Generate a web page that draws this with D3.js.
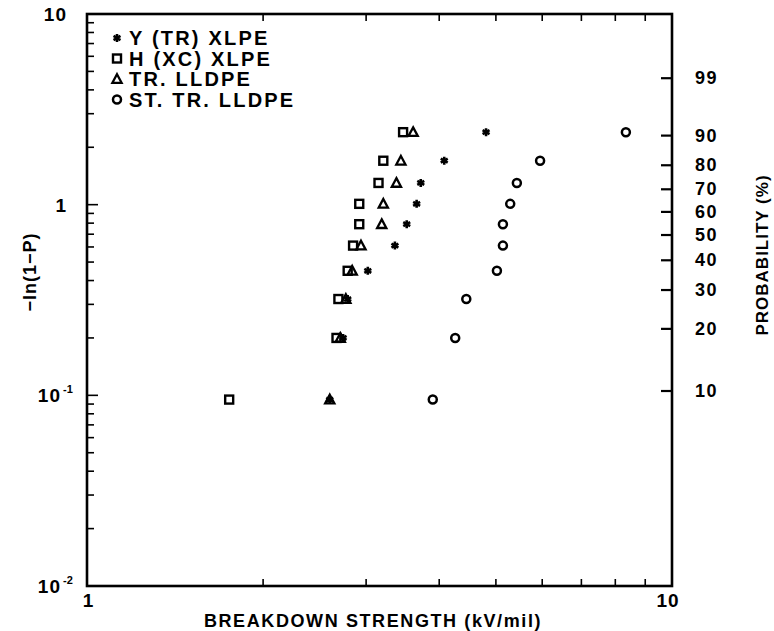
<!DOCTYPE html>
<html><head><meta charset="utf-8">
<script src="https://cdn.jsdelivr.net/npm/d3@7"></script>
<style>body{margin:0;background:#fff}</style>
</head><body><svg id="c" width="774" height="631"></svg>
<script>
// -ln(1-P) plotting positions
const rankValues = [0.095, 0.20, 0.32, 0.45, 0.61, 0.79, 1.01, 1.30, 1.70, 2.40];
// breakdown strength (kV/mil)
const yTrXlpe   = [2.60, 2.74, 2.79, 3.02, 3.36, 3.52, 3.66, 3.72, 4.08, 4.81];
const hXcXlpe   = [1.75, 2.67, 2.69, 2.79, 2.85, 2.92, 2.92, 3.15, 3.21, 3.47];
const trLldpe   = [2.60, 2.71, 2.77, 2.84, 2.94, 3.19, 3.21, 3.38, 3.44, 3.61];
const stTrLldpe = [3.90, 4.26, 4.45, 5.02, 5.14, 5.14, 5.29, 5.43, 5.95, 8.34];
const seriesNames = ["Y (TR) XLPE", "H (XC) XLPE", "TR. LLDPE", "ST. TR. LLDPE"];
const seriesSymbols = ["star", "square", "triangle", "circle"];
const probTicks = [10, 20, 30, 40, 50, 60, 70, 80, 90, 99];
const xTickLabels = ["1", "10"];
const yTickLabels = [{v: 10, base: "10", sup: ""}, {v: 1, base: "1", sup: ""}, {v: 0.1, base: "10", sup: "-1"}, {v: 0.01, base: "10", sup: "-2"}];

const seriesData = [yTrXlpe, hXcXlpe, trLldpe, stTrLldpe];

const L = 87, R = 672, T = 14, B = 586;
const svg = d3.select("#c");
const x = d3.scaleLog().domain([1, 10]).range([L, R]);
const y = d3.scaleLog().domain([0.01, 10]).range([B, T]);

const font = "'Liberation Sans', Arial, sans-serif";

// minor ticks
const minorX = d3.range(2, 10);
const g = svg.append("g").attr("stroke", "#000").attr("stroke-width", 1.6);
minorX.forEach(v => {
  g.append("line").attr("x1", x(v)).attr("x2", x(v)).attr("y1", B).attr("y2", B - 7);
  g.append("line").attr("x1", x(v)).attr("x2", x(v)).attr("y1", T).attr("y2", T + 7);
});
[0.01, 0.1, 1].forEach(d => {
  d3.range(2, 10).forEach(m => {
    const v = d * m;
    g.append("line").attr("x1", L).attr("x2", L + 7).attr("y1", y(v)).attr("y2", y(v));
  });
});
[0.1, 1].forEach(v => {
  g.append("line").attr("x1", L).attr("x2", L + 11).attr("y1", y(v)).attr("y2", y(v));
});
// right probability ticks
probTicks.forEach(p => {
  const v = -Math.log(1 - p / 100);
  g.append("line").attr("x1", R).attr("x2", R - 11).attr("y1", y(v)).attr("y2", y(v)).attr("stroke-width", 2.2);
});

// frame
svg.append("rect").attr("x", L).attr("y", T).attr("width", R - L).attr("height", B - T)
  .attr("fill", "none").attr("stroke", "#000").attr("stroke-width", 2.6);

// left labels
yTickLabels.forEach(t => {
  const tx = svg.append("text").attr("font-family", font).attr("font-weight", "bold")
    .attr("font-size", 19).attr("letter-spacing", 1)
    .attr("text-anchor", "end").attr("x", t.sup ? 61 : 67).attr("y", y(t.v) + 7);
  tx.text(t.base);
  if (t.sup) {
    svg.append("text").attr("font-family", font).attr("font-weight", "bold")
      .attr("font-size", 11).attr("x", 63).attr("y", y(t.v) - 2).text(t.sup);
  }
});
// bottom labels
svg.append("text").attr("font-family", font).attr("font-weight", "bold").attr("font-size", 19)
  .attr("text-anchor", "middle").attr("x", x(1) + 1).attr("y", 607).text(xTickLabels[0]);
svg.append("text").attr("font-family", font).attr("font-weight", "bold").attr("font-size", 19)
  .attr("letter-spacing", 1).attr("text-anchor", "middle").attr("x", x(10) - 4).attr("y", 607).text(xTickLabels[1]);
// right labels
probTicks.forEach(p => {
  const v = -Math.log(1 - p / 100);
  svg.append("text").attr("font-family", font).attr("font-weight", "bold").attr("font-size", 18)
    .attr("letter-spacing", 1.5).attr("x", 695).attr("y", y(v) + 6).text(p);
});

// titles
svg.append("text").attr("font-family", font).attr("font-weight", "bold").attr("font-size", 18).attr("letter-spacing", 1.6)
  .attr("text-anchor", "middle").attr("x", 373).attr("y", 627).text("BREAKDOWN STRENGTH (kV/mil)");
svg.append("text").attr("font-family", font).attr("font-weight", "bold").attr("font-size", 18).attr("letter-spacing", 1)
  .attr("text-anchor", "middle").attr("transform", "translate(36,272) rotate(-90)").text("−ln(1−P)");
svg.append("text").attr("font-family", font).attr("font-weight", "bold").attr("font-size", 17).attr("letter-spacing", 1)
  .attr("text-anchor", "middle").attr("transform", "translate(768,255) rotate(-90)").text("PROBABILITY (%)");

// markers
function drawMarker(sel, type) {
  if (type === "star") {
    sel.append("path").attr("d", d3.symbol(d3.symbolAsterisk, 45)()).attr("fill", "none")
      .attr("stroke", "#000").attr("stroke-width", 2.6);
  } else if (type === "square") {
    sel.append("rect").attr("x", -4).attr("y", -4).attr("width", 8).attr("height", 8)
      .attr("fill", "none").attr("stroke", "#000").attr("stroke-width", 2.4);
  } else if (type === "triangle") {
    sel.append("path").attr("d", "M0,-4.8L4.6,3.8L-4.6,3.8Z")
      .attr("fill", "none").attr("stroke", "#000").attr("stroke-width", 2.3);
  } else {
    sel.append("circle").attr("r", 4).attr("fill", "none").attr("stroke", "#000").attr("stroke-width", 2.5);
  }
}
seriesData.forEach((vals, si) => {
  vals.forEach((v, i) => {
    const m = svg.append("g").attr("transform", `translate(${x(v)},${y(rankValues[i])})`);
    drawMarker(m, seriesSymbols[si]);
  });
});

// legend
seriesNames.forEach((n, i) => {
  const yy = 38 + i * 20.5;
  const m = svg.append("g").attr("transform", `translate(117,${yy})`);
  drawMarker(m, seriesSymbols[i]);
  svg.append("text").attr("font-family", font).attr("font-weight", "bold").attr("font-size", 20).attr("letter-spacing", 2.2)
    .attr("x", 129).attr("y", yy + 7).text(n);
});
</script>
</body></html>
